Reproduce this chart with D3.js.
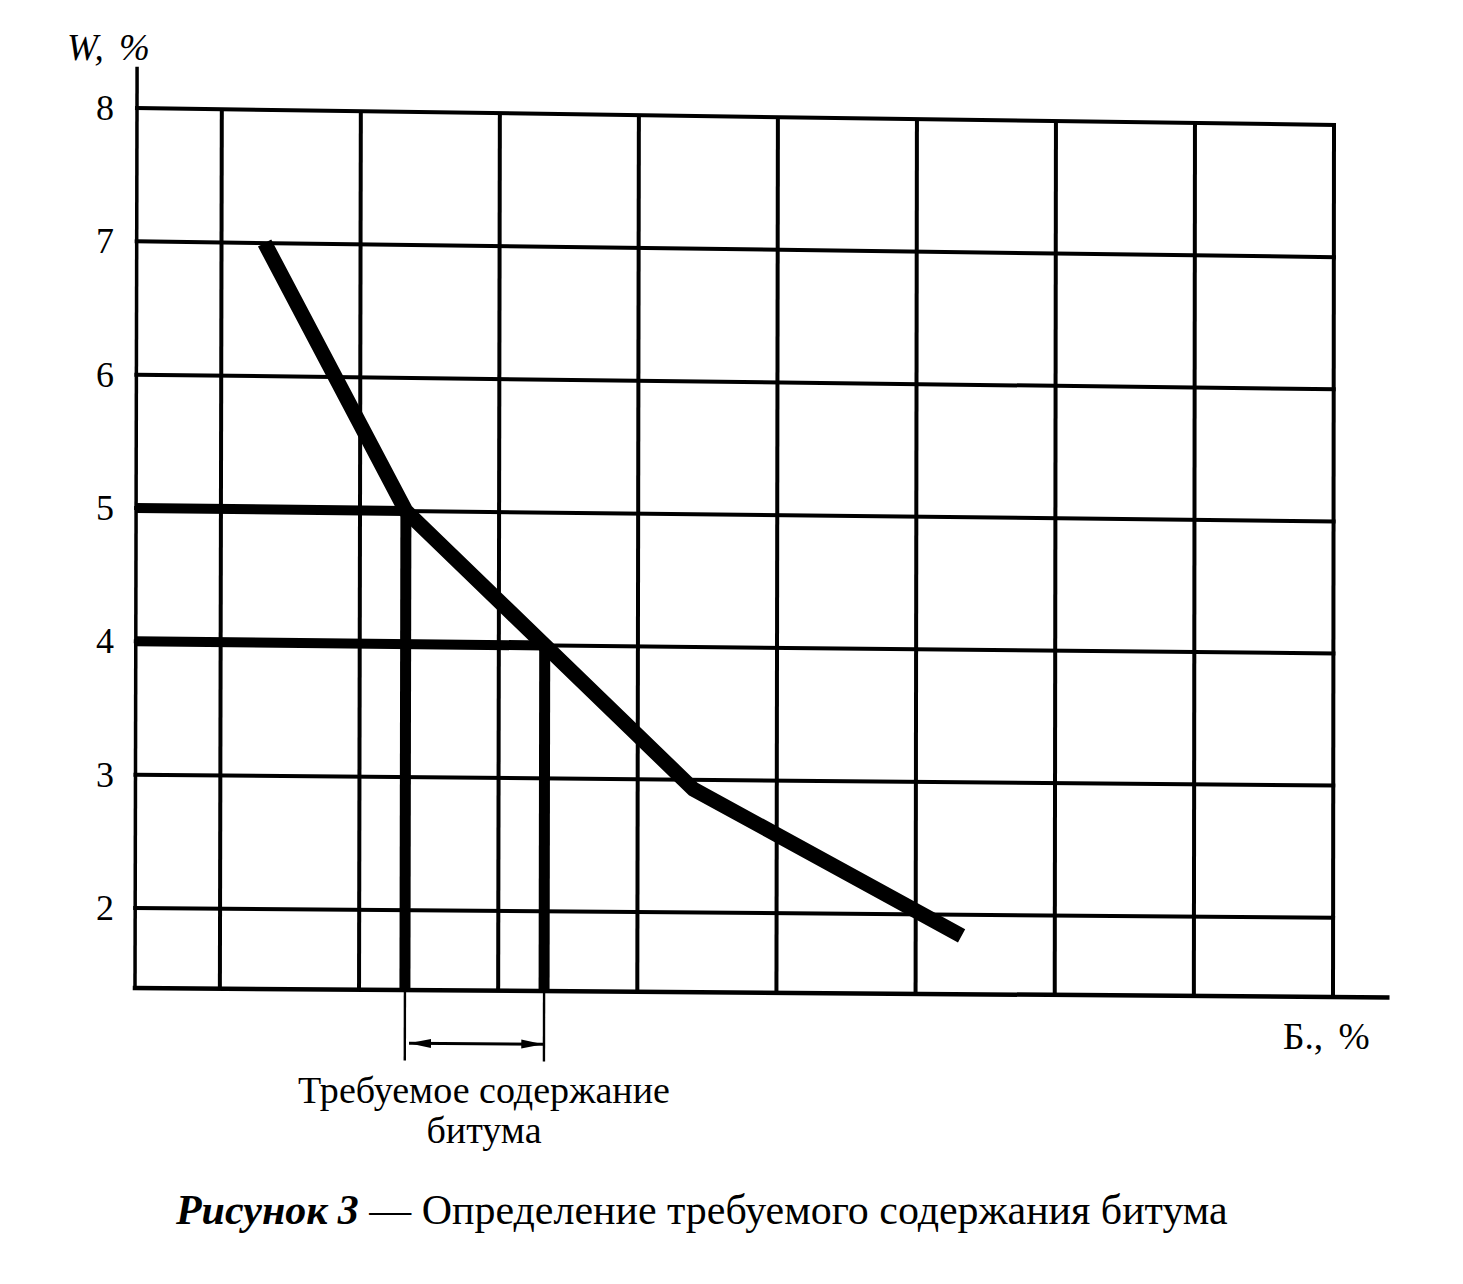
<!DOCTYPE html>
<html><head><meta charset="utf-8">
<script src="https://cdn.jsdelivr.net/npm/d3@7/dist/d3.min.js"></script>
<style>
html,body{margin:0;padding:0;background:#fff;}
svg{display:block;}
text{font-family:"Liberation Serif","Times New Roman",serif;fill:#000;}
</style></head>
<body>
<script>
// ---- data ----
const wTicks = [2, 3, 4, 5, 6, 7, 8];            // W, % tick labels
const xGridLines = [1, 2, 3, 4, 5, 6, 7, 8, 9];  // vertical grid (Б., % units, unlabeled)
const xLeft = 0.39, xRight = 9, xAxisEnd = 9.39;
const wBottom = 1.4, wTop = 8, wAxisTop = 8.31;
const curveX = [1.31, 2.33, 4.40, 6.33];
const curveW = [7.0, 5.0, 2.93, 1.84];
const refX = [2.33, 3.33];
const refW = [5, 4];
const arrowW = 1.0, extW = 0.87;
const yLabel = "W, %";
const xLabel = "Б., %";
const noteLines = ["Требуемое содержание", "битума"];
const captionBold = "Рисунок 3";
const captionRest = " — Определение требуемого содержания битума";

// ---- layout ----
const W = 1463, H = 1284;
const TL = [137, 108], TR = [1334, 125], BL = [135, 988], BR = [1333, 997];

const svg = d3.select("body").append("svg").attr("width", W).attr("height", H);
svg.append("rect").attr("width", W).attr("height", H).attr("fill", "#fff");

const xs = d3.scaleLinear().domain([xLeft, xRight]).range([0, 1]);
const ws = d3.scaleLinear().domain([wTop, wBottom]).range([0, 1]);
// bilinear warp reproduces the slightly skewed scan
function P(x, w) {
  const u = xs(x), v = ws(w);
  return [
    (1-u)*(1-v)*TL[0] + u*(1-v)*TR[0] + (1-u)*v*BL[0] + u*v*BR[0],
    (1-u)*(1-v)*TL[1] + u*(1-v)*TR[1] + (1-u)*v*BL[1] + u*v*BR[1]
  ];
}
const line = d3.line().x(d => P(d[0], d[1])[0]).y(d => P(d[0], d[1])[1]);

const g = svg.append("g");
// grid verticals
g.selectAll("path.vg").data(xGridLines).join("path").attr("class", "vg")
  .attr("d", x => line([[x, wBottom], [x, wTop]]))
  .attr("stroke", "#000").attr("stroke-width", 4).attr("fill", "none");
// grid horizontals
g.selectAll("path.hg").data(wTicks).join("path").attr("class", "hg")
  .attr("d", w => line([[xLeft, w], [xRight, w]]))
  .attr("stroke", "#000").attr("stroke-width", 4).attr("fill", "none").attr("stroke-linecap", "square");
// axes
g.append("path").attr("d", line([[xLeft, wBottom], [xLeft, wAxisTop]]))
  .attr("stroke", "#000").attr("stroke-width", 3.5).attr("fill", "none");
g.append("path").attr("d", line([[xLeft, wBottom], [xAxisEnd, wBottom]]))
  .attr("stroke", "#000").attr("stroke-width", 4.5).attr("fill", "none").attr("stroke-linecap", "square");

// reference lines
refX.forEach((x, i) => {
  g.append("path").attr("d", line([[xLeft, refW[i]], [x, refW[i]]]))
    .attr("stroke", "#000").attr("stroke-width", 10).attr("fill", "none");
  g.append("path").attr("d", line([[x, refW[i]], [x, wBottom]]))
    .attr("stroke", "#000").attr("stroke-width", 11).attr("fill", "none");
  g.append("path").attr("d", line([[x, wBottom], [x, extW]]))
    .attr("stroke", "#000").attr("stroke-width", 2.4).attr("fill", "none");
});

// curve
g.append("path").attr("d", line(curveX.map((x, i) => [x, curveW[i]])))
  .attr("stroke", "#000").attr("stroke-width", 15).attr("fill", "none")
  .attr("stroke-linejoin", "round").attr("stroke-linecap", "butt");

// double arrow
const defs = svg.append("defs");
defs.append("marker").attr("id", "ah").attr("viewBox", "0 0 22 10")
  .attr("refX", 22).attr("refY", 5).attr("markerWidth", 22).attr("markerHeight", 10)
  .attr("markerUnits", "userSpaceOnUse").attr("orient", "auto-start-reverse")
  .append("path").attr("d", "M0,0.5 L22,5 L0,9.5 Z").attr("fill", "#000");
g.append("path").attr("d", line([[refX[0] + 0.03, arrowW], [refX[1] - 0.005, arrowW]]))
  .attr("stroke", "#000").attr("stroke-width", 3).attr("fill", "none")
  .attr("marker-start", "url(#ah)").attr("marker-end", "url(#ah)");

// W tick labels
const yLeft = d3.scaleLinear().domain([wBottom, wTop]).range([BL[1], TL[1]]);
const ax = svg.append("g").attr("transform", "translate(114,0)")
  .call(d3.axisLeft(yLeft).tickValues(wTicks).tickSize(0).tickPadding(0).tickFormat(d3.format("d")));
ax.select(".domain").remove();
ax.selectAll("text").attr("font-family", "Liberation Serif").attr("font-size", 36).attr("fill", "#000");

function fitText(sel, width) {
  const len = sel.node().getComputedTextLength();
  const fs = parseFloat(sel.attr("font-size"));
  sel.attr("font-size", fs * width / len);
}

// axis titles
const yl = svg.append("text").attr("x", 67).attr("y", 60).attr("font-size", 36)
  .attr("font-style", "italic").attr("word-spacing", 6).text(yLabel);
fitText(yl, 83);
const xl = svg.append("text").attr("x", 1283).attr("y", 1049).attr("font-size", 36)
  .attr("word-spacing", 6).text(xLabel);
fitText(xl, 87);

// note
const n1 = svg.append("text").attr("x", 484).attr("y", 1103).attr("text-anchor", "middle")
  .attr("font-size", 36).text(noteLines[0]);
fitText(n1, 372);
const n2 = svg.append("text").attr("x", 484).attr("y", 1143).attr("text-anchor", "middle")
  .attr("font-size", +n1.attr("font-size")).text(noteLines[1]);

// caption
const cap = svg.append("text").attr("x", 176).attr("y", 1224).attr("font-size", 42);
cap.append("tspan").attr("font-weight", "bold").attr("font-style", "italic").text(captionBold);
cap.append("tspan").text(captionRest);
fitText(cap, 1052);
</script>
</body></html>
